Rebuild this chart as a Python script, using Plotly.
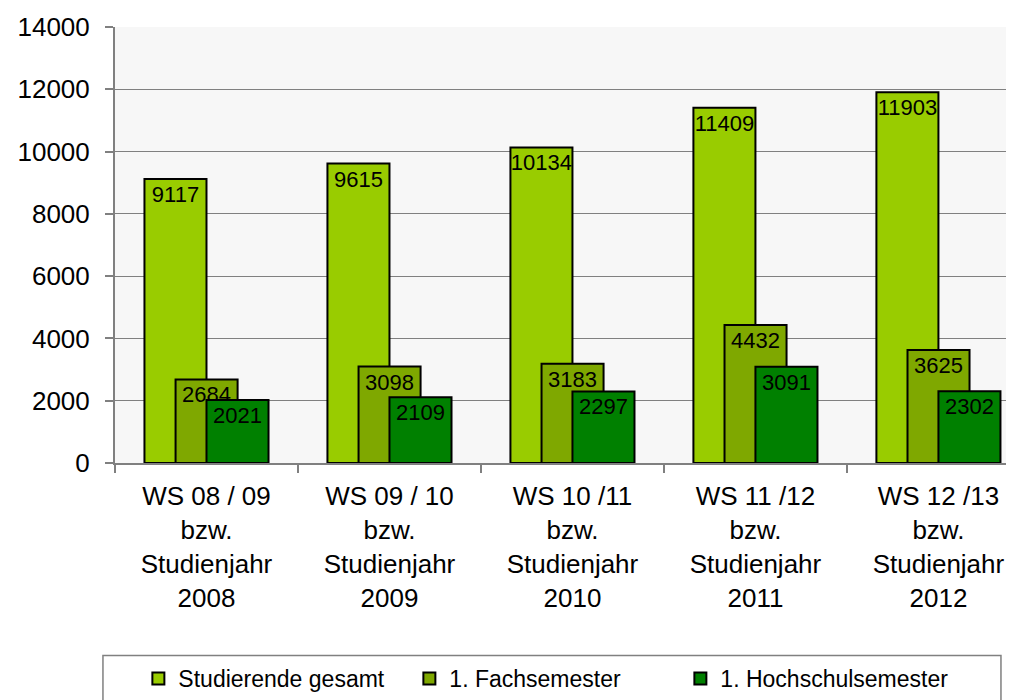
import plotly.graph_objects as go

# Semester / Studienjahr
semester = ["WS 08 / 09", "WS 09 / 10", "WS 10 /11", "WS 11 /12", "WS 12 /13"]
jahre = ["2008", "2009", "2010", "2011", "2012"]

gesamt = [9117, 9615, 10134, 11409, 11903]
fachsemester = [2684, 3098, 3183, 4432, 3625]
hochschulsemester = [2021, 2109, 2297, 3091, 2302]

kategorien = [f"{s}<br>bzw.<br>Studienjahr<br>{j}" for s, j in zip(semester, jahre)]

serien = [
    ("Studierende gesamt", gesamt, "#99CC00", -0.339),
    ("1. Fachsemester", fachsemester, "#7FA800", -0.169),
    ("1. Hochschulsemester", hochschulsemester, "#008000", 0.0),
]

schrift = "Liberation Sans, Arial, sans-serif"

fig = go.Figure()
for name, werte, farbe, versatz in serien:
    fig.add_trace(go.Bar(
        x=kategorien,
        y=werte,
        name=name,
        width=0.339,
        offset=versatz,
        marker=dict(color=farbe, line=dict(color="black", width=2)),
        text=[str(v) for v in werte],
        textposition="inside",
        insidetextanchor="end",
        textangle=0,
        constraintext="none",
        textfont=dict(family=schrift, size=22, color="black"),
        cliponaxis=False,
    ))

# Rahmen um die Legende (wie im Original, breiter als die Einträge)
fig.add_shape(
    type="rect", xref="paper", yref="paper",
    x0=-0.0134, x1=0.9855, y0=-0.4416, y1=-0.6,
    line=dict(color="#808080", width=1.5),
    fillcolor="rgba(0,0,0,0)",
)

# Seite hat 8px Rand im Browser -> Figur etwas kleiner
fig.update_layout(
    width=1006,
    height=692,
    barmode="overlay",
    paper_bgcolor="white",
    plot_bgcolor="#F7F7F7",
    font=dict(family=schrift, color="black"),
    margin=dict(l=107, r=0, t=19, b=236),
    xaxis=dict(
        type="category",
        range=[-0.5, 4.413],
        tickson="boundaries",
        ticks="outside",
        ticklen=8,
        tickcolor="#808080",
        tickwidth=2,
        showline=True,
        linecolor="#808080",
        linewidth=2,
        showgrid=False,
        tickfont=dict(size=26),
        ticklabelstandoff=9,
    ),
    yaxis=dict(
        range=[0, 14000],
        dtick=2000,
        tickformat="d",
        ticks="outside",
        ticklen=8,
        tickcolor="#808080",
        tickwidth=2,
        showline=True,
        linecolor="#808080",
        linewidth=2,
        gridcolor="#808080",
        gridwidth=1,
        zeroline=False,
        tickfont=dict(size=26),
        ticklabelstandoff=10,
    ),
    legend=dict(
        orientation="h",
        x=0.026,
        xanchor="left",
        y=-0.446,
        yanchor="top",
        borderwidth=0,
        bgcolor="rgba(0,0,0,0)",
        font=dict(size=23),
        entrywidth=226,
        itemsizing="constant",
    ),
    showlegend=True,
)

fig.write_html("out.html")
